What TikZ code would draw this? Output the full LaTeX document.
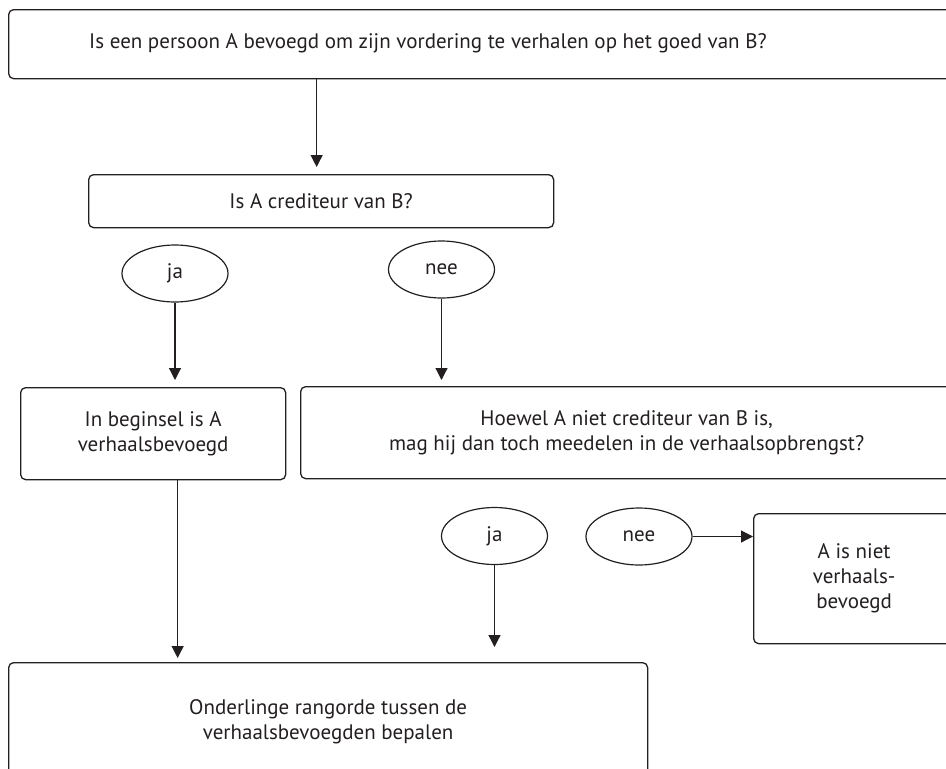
\documentclass[tikz,border=0pt]{standalone}
\usepackage{fontspec}
\setmainfont{PT Sans}
\usetikzlibrary{shapes.geometric,arrows.meta}
\definecolor{ink}{HTML}{231F20}
\begin{document}
\begin{tikzpicture}[x=1pt,y=-1pt,
  every node/.style={font=\fontsize{21}{25}\selectfont, text=ink},
  box/.style={draw=ink, line width=1.3pt, rounded corners=5pt, inner sep=0pt, align=center, anchor=north west},
  oval/.style={ellipse, draw=ink, line width=1.2pt, minimum width=106pt, minimum height=57pt, inner sep=0pt},
  arr/.style={draw=ink, line width=1.2pt, -{Triangle[width=12pt,length=12pt]}}]
\useasboundingbox (0,0) rectangle (946,769);
\clip (0,0) rectangle (946,769);
\node[box, minimum width=960pt, minimum height=69pt] (top) at (8,9) {};
\node (toptext) at (428,43.5) {Is een persoon A bevoegd om zijn vordering te verhalen op het goed van B?};
\node[box, minimum width=465pt, minimum height=53pt] (cred) at (88,174) {Is A crediteur van B?};
\node[oval] (ja1) at (175,273.5) {ja};
\node[oval] (nee1) at (441.5,269.5) {nee};
\node[box, minimum width=265pt, minimum height=92pt] (beg) at (20,387) {In beginsel is A\\verhaalsbevoegd};
\node[box, minimum width=652pt, minimum height=92pt] (hoe) at (300,386) {Hoewel A niet crediteur van B is,\\mag hij dan toch meedelen in de verhaalsopbrengst?};
\node[oval] (ja2) at (494.5,536) {ja};
\node[oval] (nee2) at (639,536.5) {nee};
\node[box, minimum width=201pt, minimum height=130pt] (niet) at (753,513) {A is niet\\verhaals-\\bevoegd};
\node[box, minimum width=639pt, minimum height=118pt] (bot) at (8,662) {Onderlinge rangorde tussen de\\verhaalsbevoegden bepalen};
\draw[arr, shorten >=7pt] ([xshift=-4.5pt]cred.north |- top.south) -- ([xshift=-4.5pt]cred.north);
\draw[arr, shorten >=7pt] (ja1.south) -- (ja1.south |- beg.north);
\draw[arr, shorten >=6pt] (nee1.south) -- (nee1.south |- hoe.north);
\draw[arr, shorten >=4pt] ([xshift=24.5pt]beg.south) -- ([xshift=24.5pt]beg.south |- bot.north);
\draw[arr, shorten >=15pt] (ja2.south) -- (ja2.south |- bot.north);
\draw[arr] (nee2.east) -- (nee2.east -| niet.west);
\end{tikzpicture}
\end{document}
